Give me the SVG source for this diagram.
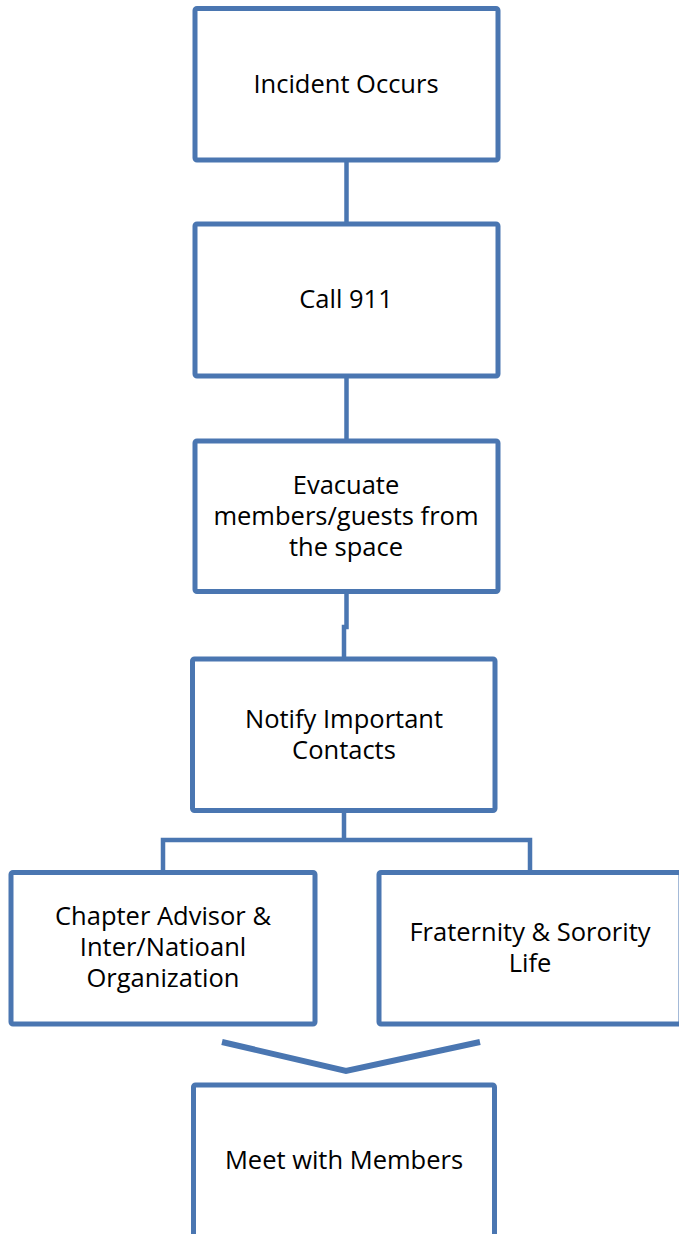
<svg xmlns="http://www.w3.org/2000/svg" width="679" height="1234" viewBox="0 0 679 1234">
<style>
.box{fill:#fff;stroke:#4a76b1;stroke-width:5}
.conn{fill:none;stroke:#4a76b1;stroke-width:4.5}
.t{font-family:"Open Sans","Liberation Sans",Arial,sans-serif;font-size:25.5px;fill:#000;text-anchor:middle}
</style>
<rect width="679" height="1234" fill="#fff"/>
<g id="connectors">
<path class="conn" d="M346.5 160 V224"/>
<path class="conn" d="M346.5 376 V441"/>
<path class="conn" d="M346.5 591 V627 H344 V659"/>
<path class="conn" d="M344 810 V840 M163 872 V840 H530 V872"/>
<path class="conn" style="stroke-width:6" d="M222 1042 L346 1071 L480 1042"/>
</g>
<g id="n1"><rect class="box" x="195" y="8.5" width="303" height="151.5" rx="2"/><text class="t" x="346" y="93">Incident Occurs</text></g>
<g id="n2"><rect class="box" x="195" y="224" width="303" height="152" rx="2"/><text class="t" x="346" y="308">Call 911</text></g>
<g id="n3"><rect class="box" x="195" y="441" width="303" height="150.5" rx="2"/><text class="t" x="346" y="494">Evacuate</text><text class="t" x="346" y="525">members/guests from</text><text class="t" x="346" y="556">the space</text></g>
<g id="n4"><rect class="box" x="192.5" y="659" width="302.5" height="151.5" rx="2"/><text class="t" x="344" y="728">Notify Important</text><text class="t" x="344" y="759">Contacts</text></g>
<g id="n5"><rect class="box" x="11" y="872.5" width="304" height="151.5" rx="2"/><text class="t" x="163" y="925">Chapter Advisor &amp;</text><text class="t" x="163" y="956">Inter/Natioanl</text><text class="t" x="163" y="987">Organization</text></g>
<g id="n6"><rect class="box" x="379" y="872.5" width="302" height="151.5" rx="2"/><text class="t" x="530" y="941">Fraternity &amp; Sorority</text><text class="t" x="530" y="972">Life</text></g>
<g id="n7"><rect class="box" x="193.5" y="1085" width="301" height="160" rx="2"/><text class="t" x="344" y="1169">Meet with Members</text></g>
</svg>
